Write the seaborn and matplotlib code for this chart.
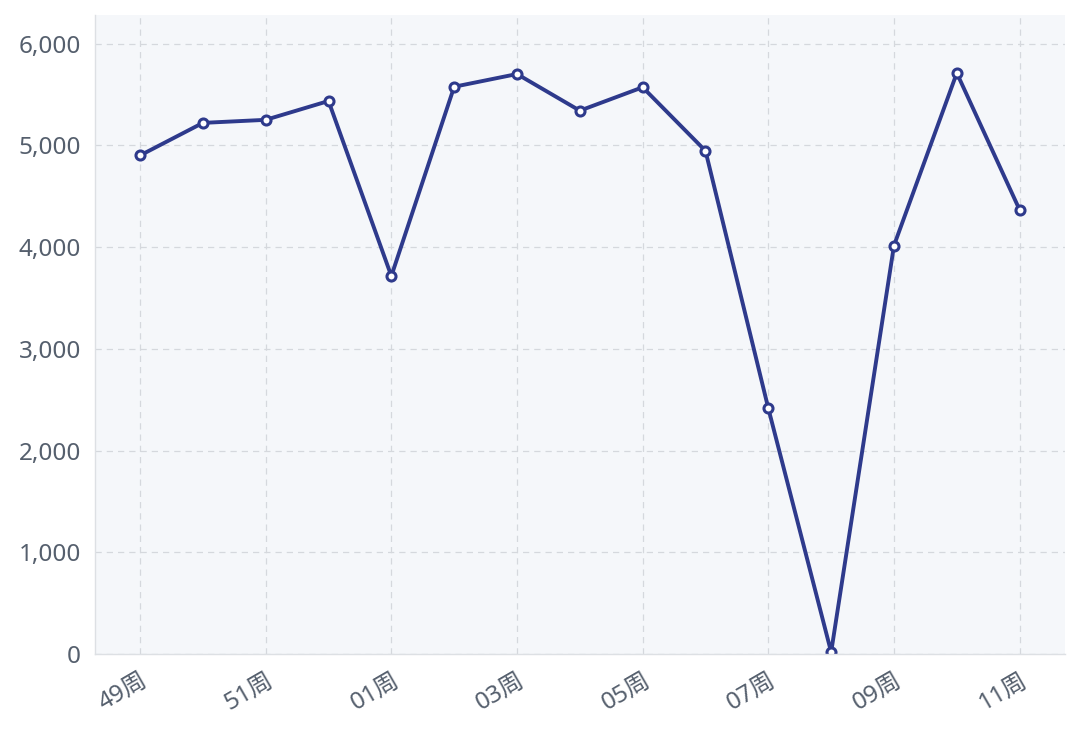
import matplotlib
matplotlib.use("Agg")
import matplotlib.pyplot as plt
import seaborn as sns
import pandas as pd
from matplotlib.ticker import FuncFormatter, MultipleLocator

weeks = ["49周", "50周", "51周", "52周", "01周", "02周", "03周", "04周",
         "05周", "06周", "07周", "08周", "09周", "10周", "11周"]
values = [4900, 5220, 5250, 5435, 3715, 5575, 5700, 5340, 5570, 4945,
          2415, 20, 4015, 5710, 4365]
tick_labels = weeks[::2]

sns.set_theme(style="white")
plt.rcParams['font.family'] = ['Noto Sans', 'Noto Sans CJK SC', 'DejaVu Sans']

df = pd.DataFrame({"week": weeks, "value": values})
df["pos"] = range(len(weeks))

fig = plt.figure(figsize=(10.8, 7.35), dpi=100)
ax = fig.add_axes([0.088, 0.110, 0.898, 0.870])
ax.set_facecolor("#f5f7fa")

line_color = "#2e3a8c"
sns.lineplot(data=df, x="pos", y="value", ax=ax, color=line_color, linewidth=2.8,
             marker="o", markersize=6.5, markerfacecolor="white",
             markeredgecolor=line_color, markeredgewidth=2.2, sort=False)

ax.set_xlim(-0.716, 14.72)
ax.set_ylim(0, 6283)
ax.set_xticks(range(0, len(weeks), 2))
ax.set_xticklabels(tick_labels, rotation=30, ha="right", rotation_mode="anchor")
ax.yaxis.set_major_locator(MultipleLocator(1000))
ax.yaxis.set_major_formatter(FuncFormatter(lambda v, p: f"{int(v):,}"))

ax.grid(True, color="#d5d8dd", linestyle=(0, (5, 4)), linewidth=0.9)
ax.set_axisbelow(True)
for s in ["top", "right"]:
    ax.spines[s].set_visible(False)
for s in ["left", "bottom"]:
    ax.spines[s].set_color("#dde0e4")
    ax.spines[s].set_linewidth(1.0)

ax.tick_params(axis="both", which="both", length=5, width=1.2, color="#222222",
               labelsize=17.5, labelcolor="#555f6d", pad=5)
ax.tick_params(axis="x", pad=5)
ax.set_xlabel("")
ax.set_ylabel("")

fig.savefig("out.png", dpi=100)
